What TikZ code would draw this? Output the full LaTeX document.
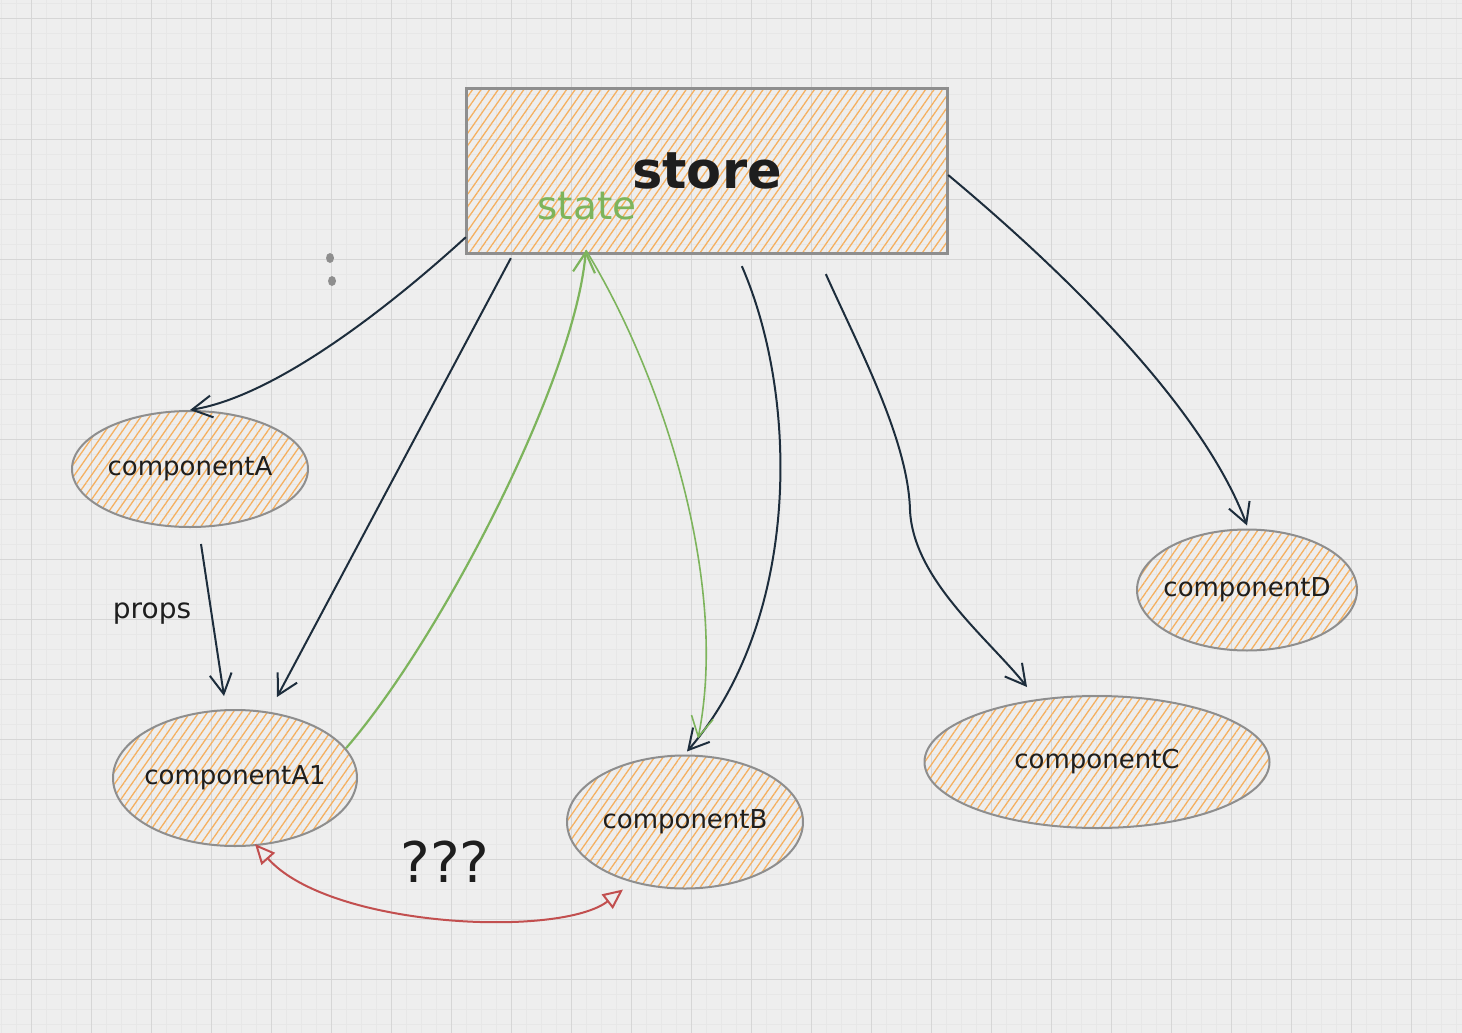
\documentclass[tikz,border=0pt]{standalone}
\usepackage{fontspec}
\setmainfont{DejaVu Sans}
\usetikzlibrary{shapes.geometric,arrows.meta,patterns.meta}

\definecolor{paper}{HTML}{EEEEEE}
\definecolor{gridmajor}{HTML}{D6D6D6}
\definecolor{gridminor}{HTML}{E7E7E7}
\definecolor{hatch}{HTML}{F5B060}
\definecolor{rim}{HTML}{8E8E8E}
\definecolor{navy}{HTML}{1D2D3C}
\definecolor{ink}{HTML}{1E1E1E}
\definecolor{leaf}{HTML}{7DB45C}
\definecolor{brick}{HTML}{C24F4F}

\begin{document}
\begin{tikzpicture}[x=1pt,y=-1pt,
    hatched/.style={pattern={Lines[angle=55,distance=7pt,line width=1.3pt]},pattern color=hatch},
    comp/.style={ellipse,draw=rim,line width=2pt,hatched,inner xsep=-20pt,inner ysep=0pt,
        text=ink,font=\fontsize{26}{30}\selectfont},
    link/.style={draw=navy,line width=2pt,-{Straight Barb[length=20pt,width=22pt]}},
    glink/.style={draw=leaf,line width=1.6pt,-{Straight Barb[length=20pt,width=22pt]}},
    rlink/.style={draw=brick,line width=2pt,
        {Triangle[open,length=20pt,width=18pt]}-{Triangle[open,length=20pt,width=18pt]}}]
    \useasboundingbox (0,0) rectangle (1462,1033);
    \fill[paper] (0,0) rectangle (1462,1033);
    \foreach \x in {1,16,...,1461} \draw[gridminor,line width=1pt] (\x,0) -- (\x,1033);
    \foreach \y in {4,19,...,1032} \draw[gridminor,line width=1pt] (0,\y) -- (1462,\y);
    \foreach \x in {31,91,...,1461} \draw[gridmajor,line width=1pt] (\x,0) -- (\x,1033);
    \foreach \y in {19,79,...,1032} \draw[gridmajor,line width=1pt] (0,\y) -- (1462,\y);

    \node[draw=rim,line width=2.5pt,hatched,minimum width=481pt,minimum height=165pt,
        text=ink,font=\bfseries\fontsize{51}{60}\selectfont] (store) at (707,171) {store};
    \node[text=leaf,font=\fontsize{39}{44}\selectfont] (statelbl) at (587,206) {state};

    \node[comp,minimum width=236pt,minimum height=116pt] (compA) at (190,469) {componentA};
    \node[comp,minimum width=244pt,minimum height=136pt] (compAone) at (235,778) {componentA1};
    \node[comp,minimum width=236pt,minimum height=133pt] (compB) at (685,822) {componentB};
    \node[comp,minimum width=345pt,minimum height=132pt] (compC) at (1097,762) {componentC};
    \node[comp,minimum width=220pt,minimum height=121pt] (compD) at (1247,590) {componentD};

    \node[text=ink,font=\fontsize{28}{32}\selectfont] (props) at (152,614) {props};
    \node[text=ink,font=\fontsize{56}{60}\selectfont] (what) at (445,862) {???};

    \fill[rim] (330,258) ellipse [x radius=4pt,y radius=5pt];
    \fill[rim] (332,281) ellipse [x radius=4pt,y radius=5pt];

    \coordinate (statein) at ([xshift=120pt,yshift=4pt]store.south west);

    \draw[link] ([yshift=17pt]store.south west) .. controls (407,291) and (283,395) .. (compA.north);
    \draw[link] ([xshift=45pt,yshift=-4pt]store.south west) -- ([xshift=42pt,yshift=12pt]compAone.north);
    \draw[link] ([xshift=11pt,yshift=-16pt]compA.south) -- ([xshift=-11pt,yshift=13pt]compAone.north);
    \draw[link] ([xshift=276pt,yshift=-12pt]store.south west) .. controls (800,400) and (800,620) .. ([xshift=2pt,yshift=3pt]compB.north);
    \draw[link] ([xshift=360pt,yshift=-20pt]store.south west) .. controls (860,350) and (908,440) .. (910,510)
        .. controls (913,580) and (990,640) .. ([xshift=-70pt,yshift=8pt]compC.north);
    \draw[link] ([yshift=-4pt]store.east) .. controls (1050,260) and (1200,400) .. ([yshift=3pt]compD.north);

    \draw[glink,line width=2.2pt] (compAone.15) .. controls (440,640) and (575,380) .. (statein);
    \draw[glink] (statein) .. controls (660,370) and (730,580) .. ([xshift=13pt,yshift=16pt]compB.north);

    \draw[rlink] ([xshift=20pt,yshift=3pt]compAone.south) .. controls (330,928) and (560,938) .. ([xshift=-62pt]compB.south);
\end{tikzpicture}
\end{document}
